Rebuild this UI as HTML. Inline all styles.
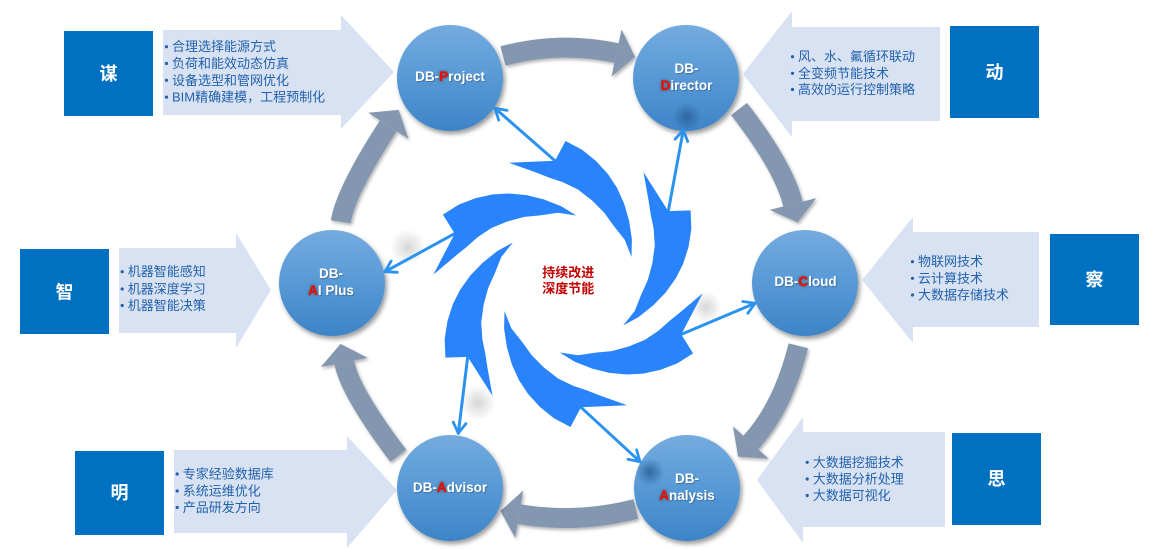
<!DOCTYPE html>
<html><head><meta charset="utf-8"><style>
html,body{margin:0;padding:0;background:#fff;}
#w{position:relative;width:1157px;height:549px;overflow:hidden;background:#fff;}
svg{position:absolute;left:0;top:0;}
.lb{position:absolute;width:120px;text-align:center;font-family:"Liberation Sans",sans-serif;font-weight:bold;font-size:13.5px;color:#fff;line-height:18px;white-space:nowrap;text-shadow:1px 1px 1px rgba(0,0,0,.25);}
.r{color:#f00;text-shadow:0 0 3px #555,0 0 2px #666,0 0 1px #777;}
</style></head><body><div id="w">
<svg width="1157" height="549" viewBox="0 0 1157 549" font-family="'Liberation Sans','Noto Sans CJK SC',sans-serif">
<defs>
 <linearGradient id="cg" x1="0" y1="0" x2="0" y2="1"><stop offset="0" stop-color="#74abde"/><stop offset="0.5" stop-color="#5799d6"/><stop offset="1" stop-color="#3d84c7"/></linearGradient>
 <filter id="cs" x="-25%" y="-25%" width="160%" height="160%"><feDropShadow dx="2" dy="3" stdDeviation="2.5" flood-color="#000" flood-opacity="0.4"/></filter>
 <filter id="as" x="-20%" y="-20%" width="140%" height="140%"><feDropShadow dx="1.5" dy="2" stdDeviation="1.5" flood-color="#000" flood-opacity="0.3"/></filter>
 <radialGradient id="blob"><stop offset="0" stop-color="#2a5f98" stop-opacity="0.85"/><stop offset="1" stop-color="#2a5f98" stop-opacity="0"/></radialGradient>
 <radialGradient id="gblob"><stop offset="0" stop-color="#000" stop-opacity="0.16"/><stop offset="1" stop-color="#000" stop-opacity="0"/></radialGradient>
 <marker id="ah" viewBox="0 0 12 12" refX="10" refY="6" markerWidth="14" markerHeight="14" markerUnits="userSpaceOnUse" orient="auto" overflow="visible"><path d="M1,0.5 L10,6 L1,11.5" fill="none" stroke="#2b93ef" stroke-width="2.4" stroke-linecap="round" stroke-linejoin="round"/></marker>
 <path id="blade" d="M565.5,141 L582.1,149.7 L596.3,161.2 L608,174.1 L617,187.8 L624.2,203.7 L629.1,220.7 L631.9,239.3 L631.5,257 L624.7,239.7 L613.6,225.7 L604.3,212.7 L592,200.4 L577.9,189.5 L562.7,182.1 L549.2,177.6 L536,172.5 L508.8,162.7 L555,160.7 Z" fill="#2984fc"/>
</defs>

<!-- side panels -->
<g fill="#d9e2f2">
 <polygon points="163,30 341,30 341,15 394,72 341,129 341,115 163,115"/>
 <polygon points="940,27 792,27 792,11 743,74 792,137 792,121 940,121"/>
 <polygon points="1039,232 913,232 913,217 862,280 913,343 913,327 1039,327"/>
 <polygon points="945,432 803,432 803,417 757,480 803,543 803,527 945,527"/>
 <polygon points="119,248 236,248 236,233 271,290 236,348 236,333 119,333"/>
 <polygon points="174,450 347,450 347,436 397,490 347,548 347,533 174,533"/>
</g>

<!-- dark boxes -->
<g fill="#0070c0">
 <rect x="64" y="31" width="89" height="85"/>
 <rect x="950" y="26" width="89" height="92"/>
 <rect x="1050" y="234" width="89" height="91"/>
 <rect x="952" y="433" width="89" height="92"/>
 <rect x="20" y="249" width="89" height="85"/>
 <rect x="75" y="451" width="89" height="84"/>
</g>
<g fill="#fff" font-weight="bold" font-size="18" text-anchor="middle" dominant-baseline="central">
 <text x="108.5" y="74">谋</text>
 <text x="994.5" y="72.5">动</text>
 <text x="1094.5" y="280">察</text>
 <text x="996.5" y="479">思</text>
 <text x="64.5" y="292.5">智</text>
 <text x="119.5" y="493">明</text>
</g>

<!-- panel text -->
<g fill="#2162ad" font-size="13" dominant-baseline="central">
 <text x="172" y="46.7">合理选择能源方式</text>
 <text x="172" y="63.5">负荷和能效动态仿真</text>
 <text x="172" y="80.3">设备选型和管网优化</text>
 <text x="172" y="97.1">BIM精确建模，工程预制化</text>
 <text x="798" y="56.7">风、水、氟循环联动</text>
 <text x="798" y="73.3">全变频节能技术</text>
 <text x="798" y="89.5">高效的运行控制策略</text>
 <text x="918" y="261.7">物联网技术</text>
 <text x="918" y="278.3">云计算技术</text>
 <text x="918" y="295">大数据存储技术</text>
 <text x="812.7" y="462.3">大数据挖掘技术</text>
 <text x="812.7" y="479">大数据分析处理</text>
 <text x="812.7" y="495.5">大数据可视化</text>
 <text x="127.7" y="271.7">机器智能感知</text>
 <text x="127.7" y="289">机器深度学习</text>
 <text x="127.7" y="305.5">机器智能决策</text>
 <text x="182.7" y="474">专家经验数据库</text>
 <text x="182.7" y="491">系统运维优化</text>
 <text x="182.7" y="507.5">产品研发方向</text>
</g>
<g fill="#2162ad">
 <circle cx="166.5" cy="46.7" r="1.6"/><circle cx="166.5" cy="63.5" r="1.6"/><circle cx="166.5" cy="80.3" r="1.6"/><circle cx="166.5" cy="97.1" r="1.6"/>
 <circle cx="792.5" cy="56.7" r="1.6"/><circle cx="792.5" cy="73.3" r="1.6"/><circle cx="792.5" cy="89.5" r="1.6"/>
 <circle cx="912.5" cy="261.7" r="1.6"/><circle cx="912.5" cy="278.3" r="1.6"/><circle cx="912.5" cy="295" r="1.6"/>
 <circle cx="807.2" cy="462.3" r="1.6"/><circle cx="807.2" cy="479" r="1.6"/><circle cx="807.2" cy="495.5" r="1.6"/>
 <circle cx="122.2" cy="271.7" r="1.6"/><circle cx="122.2" cy="289" r="1.6"/><circle cx="122.2" cy="305.5" r="1.6"/>
 <circle cx="177.2" cy="474" r="1.6"/><circle cx="177.2" cy="491" r="1.6"/><circle cx="177.2" cy="507.5" r="1.6"/>
</g>

<!-- gray cycle arrows -->
<g filter="url(#as)">
 <g fill="none" stroke="#8497b0" stroke-width="20">
  <path d="M503,56 Q559.5,40.8 616.5,53"/>
  <path d="M739,109 Q783.5,166.2 793,204"/>
  <path d="M798.3,345.8 Q783,407 750.8,442.5"/>
  <path d="M635.8,509 Q577,524 519.2,514.2"/>
  <path d="M398.3,455.8 Q350,392 344.2,362.5"/>
  <path d="M340.8,221.7 Q345.3,191.9 388.3,125.8"/>
 </g>
 <g fill="#8497b0">
  <polygon points="621.5,29.5 635.1,57 611.5,76.5"/>
  <polygon points="816.3,198.1 797.6,222.4 769.7,209.9"/>
  <polygon points="768.6,458.6 738,456.6 733,426.4"/>
  <polygon points="515.2,537.9 500.5,511 523.2,490.5"/>
  <polygon points="320.7,367.1 340.5,343.9 367.7,357.9"/>
  <polygon points="368.2,112.7 398.7,109.9 408.4,138.9"/>
 </g>
</g>

<!-- soft shadows -->
<circle cx="408" cy="247" r="18" fill="url(#gblob)"/>
<circle cx="478" cy="403" r="18" fill="url(#gblob)"/>
<circle cx="706" cy="307" r="16" fill="url(#gblob)"/>

<!-- circles -->
<g filter="url(#cs)" fill="url(#cg)">
 <circle cx="450" cy="78" r="53"/>
 <circle cx="686" cy="78" r="53"/>
 <circle cx="805" cy="283" r="53"/>
 <circle cx="687" cy="488" r="53"/>
 <circle cx="450" cy="488" r="53"/>
 <circle cx="332" cy="283" r="53"/>
</g>
<circle cx="687" cy="117" r="14" fill="url(#blob)"/>
<circle cx="650" cy="472" r="14" fill="url(#blob)"/>

<!-- connectors -->
<g stroke="#2b93ef" stroke-width="3" fill="none" marker-end="url(#ah)" stroke-linecap="round">
 <line x1="555" y1="160.7" x2="495" y2="108.3"/>
 <line x1="668.3" y1="211.1" x2="683.3" y2="130"/>
 <line x1="681.3" y1="334.4" x2="755" y2="303.3"/>
 <line x1="581" y1="407.3" x2="640" y2="461.7"/>
 <line x1="467.7" y1="356.9" x2="458.3" y2="433.3"/>
 <line x1="454.7" y1="233.6" x2="385" y2="271.7"/>
</g>

<!-- swirl -->
<use href="#blade"/>
<use href="#blade" transform="rotate(60 568 284)"/>
<use href="#blade" transform="rotate(120 568 284)"/>
<use href="#blade" transform="rotate(180 568 284)"/>
<use href="#blade" transform="rotate(240 568 284)"/>
<use href="#blade" transform="rotate(300 568 284)"/>

<g fill="#c00000" font-weight="bold" font-size="13" text-anchor="middle" dominant-baseline="central">
 <text x="568.3" y="272.5">持续改进</text>
 <text x="568.3" y="288.5">深度节能</text>
</g>
</svg>

<div class="lb" style="left:390px;top:68px;">DB-<span class="r">P</span>roject</div>
<div class="lb" style="left:626.5px;top:60px;">DB-</div>
<div class="lb" style="left:626.5px;top:77px;"><span class="r">D</span>irector</div>
<div class="lb" style="left:745.5px;top:273px;">DB-<span class="r">C</span>loud</div>
<div class="lb" style="left:627px;top:470px;">DB-</div>
<div class="lb" style="left:627px;top:487px;"><span class="r">A</span>nalysis</div>
<div class="lb" style="left:390px;top:478.5px;">DB-<span class="r">A</span>dvisor</div>
<div class="lb" style="left:271px;top:265px;">DB-</div>
<div class="lb" style="left:271px;top:282px;"><span class="r">A</span>I Plus</div>
</div></body></html>
